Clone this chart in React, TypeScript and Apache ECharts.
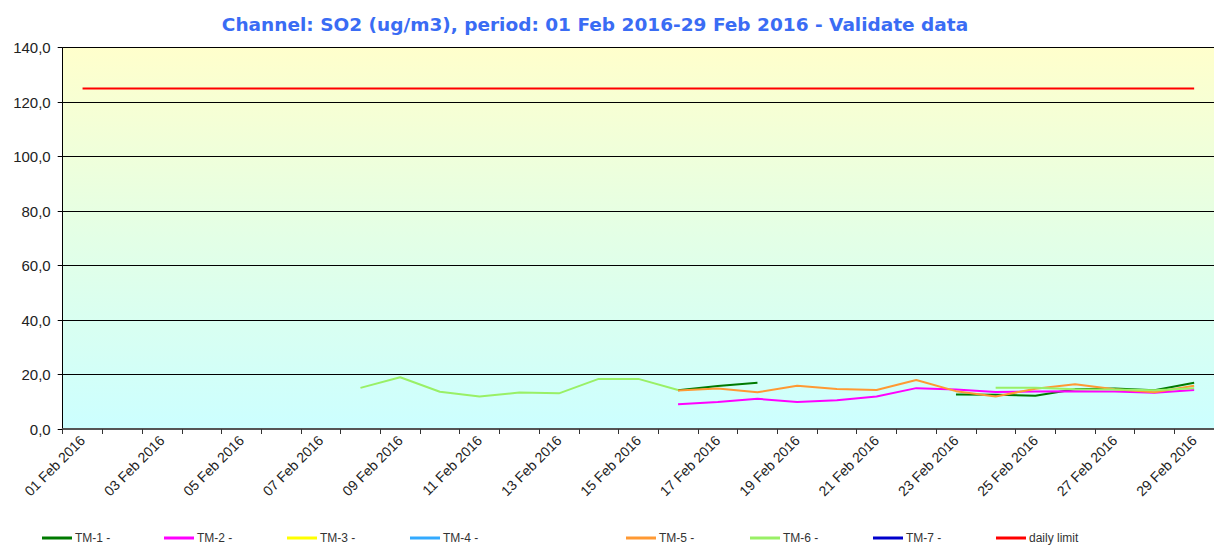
import React, { useEffect, useRef } from "react";
import * as echarts from "echarts";

const categories = [
  "01 Feb 2016", "02 Feb 2016", "03 Feb 2016", "04 Feb 2016", "05 Feb 2016",
  "06 Feb 2016", "07 Feb 2016", "08 Feb 2016", "09 Feb 2016", "10 Feb 2016",
  "11 Feb 2016", "12 Feb 2016", "13 Feb 2016", "14 Feb 2016", "15 Feb 2016",
  "16 Feb 2016", "17 Feb 2016", "18 Feb 2016", "19 Feb 2016", "20 Feb 2016",
  "21 Feb 2016", "22 Feb 2016", "23 Feb 2016", "24 Feb 2016", "25 Feb 2016",
  "26 Feb 2016", "27 Feb 2016", "28 Feb 2016", "29 Feb 2016",
];

const N = null;
const tm1 = [N, N, N, N, N, N, N, N, N, N, N, N, N, N, N, 14.2, 15.8, 17.0, N, N, N, N, 12.7, 12.6, 12.2, 14.6, 14.9, 14.2, 17.0];
const tm2 = [N, N, N, N, N, N, N, N, N, N, N, N, N, N, N, 9.1, 9.9, 11.1, 9.9, 10.6, 11.9, 15.0, 14.5, 13.6, 13.8, 13.9, 13.8, 13.3, 14.3];
const tm3: (number | null)[] = categories.map(() => null);
const tm4: (number | null)[] = categories.map(() => null);
const tm5 = [N, N, N, N, N, N, N, N, N, N, N, N, N, N, N, 14.1, 14.9, 13.5, 15.9, 14.7, 14.3, 18.0, 13.9, 11.9, 14.8, 16.4, 14.6, 13.5, 15.9];
const tm6 = [N, N, N, N, N, N, N, 15.1, 19.0, 13.7, 11.9, 13.4, 13.1, 18.4, 18.4, 14.3, N, N, N, N, N, N, N, 15.1, 15.1, 14.6, 14.5, 14.2, 15.0];
const tm7: (number | null)[] = categories.map(() => null);
const dailyLimit = categories.map(() => 125);

const seriesNames = ["TM-1 -", "TM-2 -", "TM-3 -", "TM-4 -", "TM-5 -", "TM-6 -", "TM-7 -", "daily limit"];
const seriesData = [tm1, tm2, tm3, tm4, tm5, tm6, tm7, dailyLimit];
const seriesColors = ["#007a00", "#ff00ff", "#ffff00", "#33aaff", "#ff9933", "#99f066", "#0000cc", "#ff0000"];
const legendLeft = [42, 164, 287, 410, 626, 750, 873, 996];

export default function App() {
  const ref = useRef<HTMLDivElement>(null);
  useEffect(() => {
    if (!ref.current) return;
    const chart = echarts.init(ref.current, null, { renderer: "svg" });
    const font = "'Liberation Sans', Arial, sans-serif";
    chart.setOption({
      animation: false,
      title: {
        text: "Channel: SO2 (ug/m3), period: 01 Feb 2016-29 Feb 2016 - Validate data",
        left: 590,
        textAlign: "center",
        top: 10,
        textStyle: { color: "#3a6cf4", fontSize: 18.5, fontWeight: "bold", fontFamily: "'DejaVu Sans', Verdana, sans-serif" },
      },
      legend: seriesNames.map((n, i) => ({
        data: [n],
        left: legendLeft[i],
        top: 532,
        icon: "rect",
        itemWidth: 30,
        itemHeight: 3,
        itemGap: 0,
        padding: 0,
        textStyle: { fontSize: 12, color: "#333", fontFamily: font, padding: [0, 0, 0, -2] },
      })),
      grid: {
        left: 62.7,
        top: 47.7,
        width: 1160,
        height: 381.3,
        show: true,
        borderWidth: 0,
        backgroundColor: new echarts.graphic.LinearGradient(0, 0, 0, 1, [
          { offset: 0, color: "#ffffcc" },
          { offset: 0.5, color: "#e3ffe6" },
          { offset: 1, color: "#ccffff" },
        ]),
      },
      xAxis: {
        type: "category",
        data: categories,
        boundaryGap: true,
        axisLine: { lineStyle: { color: "#555", width: 2 } },
        axisTick: { show: true, interval: 0, length: 5, lineStyle: { color: "#333" } },
        axisLabel: { interval: 1, rotate: 45, fontSize: 14, color: "#222", fontFamily: font, margin: 9 },
        splitLine: { show: false },
      },
      yAxis: {
        type: "value",
        min: 0,
        max: 140,
        interval: 20,
        axisLine: { show: true, lineStyle: { color: "#000", width: 1 } },
        axisTick: { show: true, length: 5, lineStyle: { color: "#000" } },
        axisLabel: {
          fontSize: 15,
          color: "#222",
          fontFamily: font,
          margin: 12,
          formatter: (v: number) => v.toFixed(1).replace(".", ","),
        },
        splitLine: { show: true, lineStyle: { color: "#000", width: 1 } },
      },
      series: seriesNames.map((n, i) => ({
        name: n,
        type: "line",
        data: seriesData[i],
        showSymbol: false,
        symbol: "none",
        connectNulls: false,
        lineStyle: { color: seriesColors[i], width: 2 },
        itemStyle: { color: seriesColors[i] },
      })),
    });
    return () => chart.dispose();
  }, []);
  return <div ref={ref} style={{ position: "absolute", left: 0, top: 0, width: 1214, height: 546 }} />;
}
